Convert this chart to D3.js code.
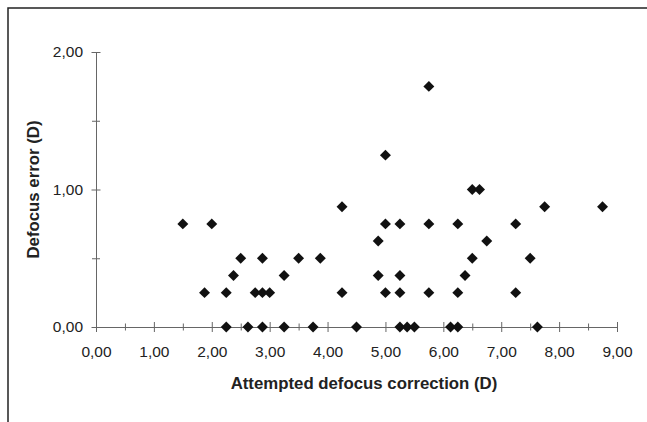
<!DOCTYPE html>
<html>
<head>
<meta charset="utf-8">
<script src="https://cdn.jsdelivr.net/npm/d3@7"></script>
<style>
  body { margin: 0; background: #fff; }
  text { font-family: "Liberation Sans", Arial, sans-serif; }
</style>
</head>
<body>
<svg id="drawing_region"></svg>
<script>
// attempted correction (D) and resulting defocus error (D)
const attempted = [1.5, 2.0, 1.875, 2.25, 2.25, 2.375, 2.5, 2.625, 2.75, 2.875,
    2.875, 2.875, 3.0, 3.25, 3.25, 3.5, 3.75, 3.875, 4.25, 4.25,
    4.5, 4.875, 4.875, 5.0, 5.0, 5.0, 5.25, 5.25, 5.25, 5.25,
    5.375, 5.5, 5.75, 5.75, 5.75, 6.125, 6.25, 6.25, 6.25, 6.375,
    6.5, 6.625, 6.5, 6.75, 7.25, 7.25, 7.5, 7.625, 7.75, 8.75];
const defocusError = [0.75, 0.75, 0.25, 0.25, 0, 0.375, 0.5, 0, 0.25, 0.5,
    0.25, 0, 0.25, 0.375, 0, 0.5, 0, 0.5, 0.875, 0.25,
    0, 0.625, 0.375, 1.25, 0.75, 0.25, 0.75, 0.375, 0.25, 0,
    0, 0, 1.75, 0.75, 0.25, 0, 0, 0.75, 0.25, 0.375,
    1.0, 1.0, 0.5, 0.625, 0.75, 0.25, 0.5, 0, 0.875, 0.875];

const xTicks = [0, 1, 2, 3, 4, 5, 6, 7, 8, 9];
const xMinorTicks = [0.5, 1.5, 2.5, 3.5, 4.5, 5.5, 6.5, 7.5, 8.5];
const yTicks = [0, 1, 2];
const yMinorTicks = [0.5, 1.5];

const xTitle = "Attempted defocus correction (D)";
const yTitle = "Defocus error (D)";

const data = attempted.map((x, i) => ({ x: x, y: defocusError[i] }));

const W = 647, H = 422;
const plot = { left: 96, right: 617, top: 52, bottom: 327 };

const locale = d3.formatLocale({ decimal: ",", thousands: ".", grouping: [3], currency: ["", ""] });
const fmt = locale.format(".2f");

const svg = d3.select("#drawing_region")
    .attr("width", W)
    .attr("height", H);

// frame around the chart (runs off right/bottom edge)
svg.append("rect")
    .attr("x", 8).attr("y", 8)
    .attr("width", W + 20).attr("height", H + 20)
    .attr("fill", "none")
    .attr("stroke", "#222")
    .attr("stroke-width", 1.5);

const xscale = d3.scaleLinear().domain([0, 9]).range([plot.left, plot.right]);
const yscale = d3.scaleLinear().domain([0, 2]).range([plot.bottom, plot.top]);

function crossTicks(g, horizontal, half) {
    g.select(".domain").attr("stroke", "#666");
    g.selectAll(".tick line").attr("stroke", "#666");
    if (horizontal) g.selectAll(".tick line").attr("y1", -half).attr("y2", half);
    else g.selectAll(".tick line").attr("x1", -half).attr("x2", half);
}

// x axis
const xg = svg.append("g")
    .attr("transform", `translate(0,${plot.bottom})`)
    .call(d3.axisBottom(xscale).tickValues(xTicks).tickFormat(fmt).tickSizeOuter(0))
    .call(g => crossTicks(g, true, 5));
xg.selectAll(".tick text")
    .attr("y", 19)
    .attr("font-size", 15.5)
    .attr("fill", "#222");
svg.append("g")
    .attr("transform", `translate(0,${plot.bottom})`)
    .call(d3.axisBottom(xscale).tickValues(xMinorTicks).tickFormat("").tickSizeOuter(0))
    .call(g => crossTicks(g, true, 3.5));

// y axis
const yg = svg.append("g")
    .attr("transform", `translate(${plot.left},0)`)
    .call(d3.axisLeft(yscale).tickValues(yTicks).tickFormat(fmt).tickSizeOuter(0))
    .call(g => crossTicks(g, false, 4.5));
yg.selectAll(".tick text")
    .attr("x", -13)
    .attr("font-size", 15.5)
    .attr("fill", "#222");
svg.append("g")
    .attr("transform", `translate(${plot.left},0)`)
    .call(d3.axisLeft(yscale).tickValues(yMinorTicks).tickFormat("").tickSizeOuter(0))
    .call(g => crossTicks(g, false, 4));

// titles
svg.append("text")
    .attr("x", 364)
    .attr("y", 389)
    .attr("text-anchor", "middle")
    .attr("font-size", 16.8)
    .attr("font-weight", "bold")
    .attr("fill", "#222")
    .text(xTitle);

svg.append("text")
    .attr("transform", `translate(39,${(plot.top + plot.bottom) / 2}) rotate(-90)`)
    .attr("text-anchor", "middle")
    .attr("font-size", 16.8)
    .attr("font-weight", "bold")
    .attr("fill", "#222")
    .text(yTitle);

// points: rotated squares (diamonds)
const diamond = d3.symbol().type(d3.symbolSquare).size(60);
svg.append("g")
    .selectAll("path")
    .data(data)
    .join("path")
    .attr("d", diamond)
    .attr("transform", d => `translate(${xscale(d.x)},${yscale(d.y)}) rotate(45)`)
    .attr("fill", "#111");
</script>
</body>
</html>
